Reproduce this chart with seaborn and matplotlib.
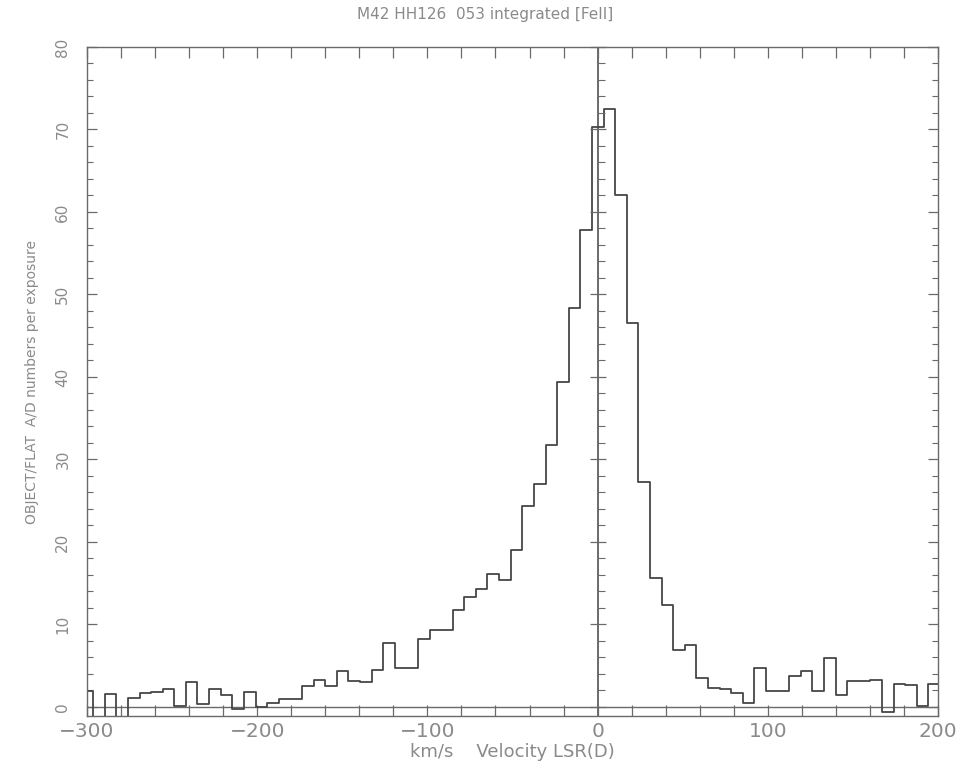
import numpy as np
import pandas as pd
import matplotlib
matplotlib.use("Agg")
import matplotlib.pyplot as plt
from matplotlib.ticker import MultipleLocator
import seaborn as sns

# Velocity channel edges (km/s, LSR) of the spectrum
channel_edges = [
    -303.2, -296.4, -289.6, -282.8, -276.0, -269.1, -262.3, -255.5, -248.7, -241.9,
    -235.1, -228.2, -221.4, -214.6, -207.8, -201.0, -194.2, -187.3, -180.5, -173.7,
    -166.9, -160.1, -153.3, -146.4, -139.6, -132.8, -126.0, -119.2, -112.4, -105.6,
    -98.7, -91.9, -85.1, -78.3, -71.5, -64.7, -57.8, -51.0, -44.2, -37.4,
    -30.6, -23.8, -16.9, -10.1, -3.3, 3.5, 10.3, 17.1, 24.0, 30.8,
    37.6, 44.4, 51.2, 58.0, 64.9, 71.7, 78.5, 85.3, 92.1, 98.9,
    105.7, 112.6, 119.4, 126.2, 133.0, 139.8, 146.6, 153.5, 160.3, 167.1,
    173.9, 180.7, 187.5, 194.4, 201.2,
]

# Integrated [FeII] signal per channel (OBJECT/FLAT, A/D numbers per exposure)
channel_counts = [
    1.9, -1.5, 1.6, -1.5, 1.1, 1.7, 1.8, 2.2, 0.1, 3.0,
    0.3, 2.2, 1.4, -0.3, 1.8, 0.05, 0.45, 1.0, 1.0, 2.5,
    3.3, 2.5, 4.4, 3.2, 3.0, 4.5, 7.7, 4.7, 4.7, 8.2,
    9.3, 9.3, 11.7, 13.3, 14.3, 16.1, 15.4, 19.0, 24.3, 27.0,
    31.8, 39.4, 48.4, 57.8, 70.3, 72.5, 62.1, 46.5, 27.3, 15.6,
    12.4, 6.9, 7.5, 3.5, 2.3, 2.2, 1.7, 0.5, 4.7, 1.9,
    1.9, 3.8, 4.3, 1.9, 5.9, 1.5, 3.1, 3.2, 3.3, -0.6,
    2.8, 2.7, 0.1, 2.8,
]

x_ticks = [-300, -200, -100, 0, 100, 200]
y_ticks = [0, 10, 20, 30, 40, 50, 60, 70, 80]

title = "M42 HH126  053 integrated [FeII]"
x_label = "km/s    Velocity LSR(D)"
y_label = "OBJECT/FLAT  A/D numbers per exposure"

sns.set_style("white")
plt.rcParams["font.family"] = ["DejaVu Sans"]

line_col = "#464646"
axis_col = "#6a6a6a"
text_col = "#8a8a8a"

centers = [0.5 * (a + b) for a, b in zip(channel_edges[:-1], channel_edges[1:])]
df = pd.DataFrame({"velocity": centers, "signal": channel_counts})

fig = plt.figure(figsize=(9.67, 7.64), dpi=100)
pos = [0.0900, 0.0628, 0.8800, 0.8757]
ax = fig.add_axes(pos)

sns.histplot(data=df, x="velocity", weights="signal", bins=list(channel_edges),
             element="step", fill=False, color=line_col, linewidth=1.3, ax=ax)

ax.set_xlim(-300, 200)
ax.set_ylim(-1.1, 80)

ax.axhline(0, color=axis_col, linewidth=1.0, zorder=1)
ax.axvline(0, color=axis_col, linewidth=1.4, zorder=1)

for s in ax.spines.values():
    s.set_visible(True)
    s.set_color(axis_col)
    s.set_linewidth(1.0)

ax.set_xticks(x_ticks)
ax.set_xticklabels([f"{t:d}".replace("-", "\u2212") for t in x_ticks])
ax.xaxis.set_minor_locator(MultipleLocator(20))
ax.set_yticks(y_ticks)
ax.set_yticklabels([str(t) for t in y_ticks])
ax.yaxis.set_minor_locator(MultipleLocator(2))

ax.tick_params(axis="x", which="both", direction="in", length=8, width=0.9,
               top=True, bottom=True, color=axis_col, labelcolor=text_col,
               labelsize=14.5, pad=4)
ax.tick_params(axis="y", which="major", direction="in", length=7, width=0.9,
               left=True, right=True, color=axis_col, labelcolor=text_col,
               labelsize=11, labelrotation=90, pad=12)
ax.tick_params(axis="y", which="minor", direction="in", length=4, width=0.8,
               left=True, right=True, color=axis_col)
for lab in ax.get_yticklabels():
    lab.set_va("center")

ax.set_title(title, color=text_col, fontsize=11, pad=20, x=0.468)
ax.set_xlabel(x_label, color=text_col, fontsize=13, labelpad=2)
ax.set_ylabel(y_label, color=text_col, fontsize=10)
ax.yaxis.set_label_coords(-0.057, 0.5)

# Overlay axis whose left spine sits on v = 0 to carry ticks along the zero line
ax0 = fig.add_axes(pos, sharex=ax, sharey=ax)
ax0.patch.set_visible(False)
for name, s in ax0.spines.items():
    s.set_visible(name == "left")
ax0.spines["left"].set_position(("data", 0))
ax0.spines["left"].set_color(axis_col)
ax0.spines["left"].set_linewidth(0)
ax0.tick_params(axis="y", which="major", direction="inout", length=12, width=0.9,
                color=axis_col, labelleft=False, left=True)
ax0.tick_params(axis="y", which="minor", direction="in", length=5, width=0.8,
                color=axis_col, left=True)
ax0.tick_params(axis="x", which="both", bottom=False, top=False, labelbottom=False)
ax0.set_xlabel("")
ax0.set_ylabel("")

fig.savefig("out.png", dpi=100)
